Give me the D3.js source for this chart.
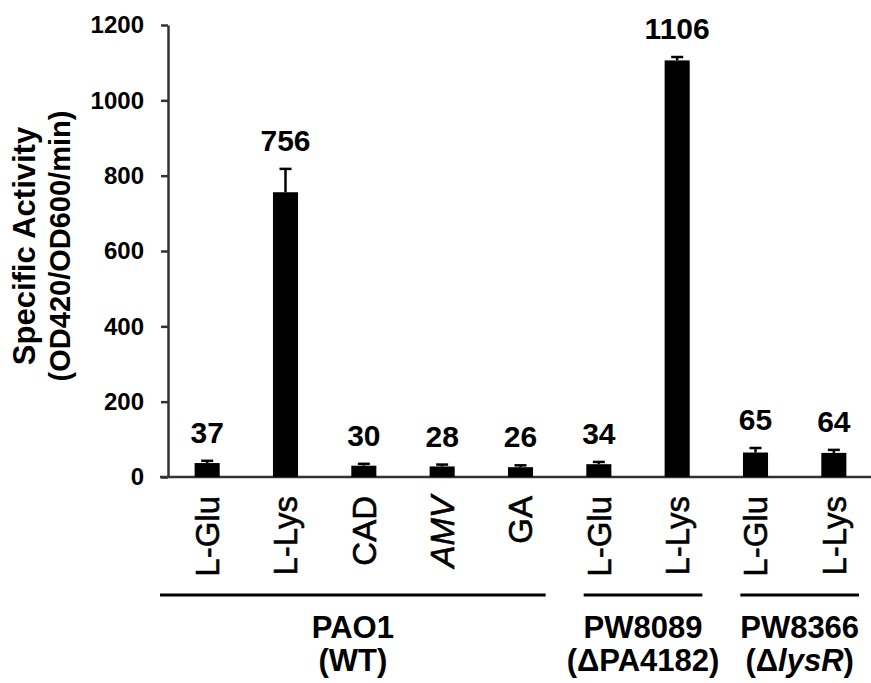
<!DOCTYPE html>
<html>
<head>
<meta charset="utf-8">
<script src="https://cdn.jsdelivr.net/npm/d3@7"></script>
<style>
  html, body { margin: 0; padding: 0; background: #fff; }
  svg { display: block; font-family: "Liberation Sans", Arial, sans-serif; }
</style>
</head>
<body>
<svg id="chart" width="871" height="683"></svg>
<script>
// Substrates tested per strain
const categories = ["L-Glu", "L-Lys", "CAD", "AMV", "GA", "L-Glu", "L-Lys", "L-Glu", "L-Lys"];
// Mean specific activity (OD420/OD600/min)
const values = [37, 756, 30, 28, 26, 34, 1106, 65, 64];
// Upper error (standard deviation)
const errors = [6, 62, 5, 5, 5, 6, 9, 12, 8];
// Italic substrate labels
const italicLabels = ["AMV"];
// Strain groups: first and last bar index, and two label lines
const groupNames = ["PAO1", "PW8089", "PW8366"];
const groupSubtitles = ["(WT)", "(ΔPA4182)", "(ΔlysR)"];
const groupStart = [0, 5, 7];
const groupEnd = [4, 6, 8];
const yTicks = [0, 200, 400, 600, 800, 1000, 1200];

const svg = d3.select("#chart");
const axisColor = "#333";

const x = d3.scaleBand()
  .domain(d3.range(categories.length))
  .range([168, 873])
  .paddingInner(0.68)
  .paddingOuter(0.34);

const y = d3.scaleLinear().domain([0, 1200]).range([477, 25]);

// Y axis
const yAxis = svg.append("g")
  .attr("transform", "translate(168,0)")
  .call(d3.axisLeft(y).tickValues(yTicks).tickFormat(d3.format("d"))
    .tickSize(7).tickPadding(17).tickSizeOuter(0));
yAxis.select(".domain").attr("stroke", axisColor).attr("stroke-width", 2.5);
yAxis.selectAll(".tick line").attr("stroke", axisColor).attr("stroke-width", 2.5);
yAxis.selectAll(".tick text")
  .attr("fill", "#000")
  .attr("font-size", 24)
  .attr("font-weight", "bold")
  .attr("font-family", "'Liberation Sans', Arial, sans-serif");

// X baseline
svg.append("line")
  .attr("x1", 160).attr("x2", 871)
  .attr("y1", y(0)).attr("y2", y(0))
  .attr("stroke", axisColor).attr("stroke-width", 2.5);

// Y axis title
const yTitle = svg.append("text")
  .attr("transform", `translate(0,246) rotate(-90)`)
  .attr("text-anchor", "middle")
  .attr("font-weight", "bold")
  .attr("fill", "#000");
yTitle.append("tspan").attr("x", 0).attr("y", 35).attr("font-size", 31).text("Specific Activity");
yTitle.append("tspan").attr("x", 0).attr("y", 70).attr("font-size", 29).text("(OD420/OD600/min)");

// Bars
const idx = d3.range(categories.length);
svg.append("g").selectAll("rect")
  .data(idx)
  .join("rect")
  .attr("x", i => x(i))
  .attr("width", x.bandwidth())
  .attr("y", i => y(values[i]))
  .attr("height", i => y(0) - y(values[i]))
  .attr("fill", "#000");

// Upper error bars
const eb = svg.append("g").attr("stroke", "#000").attr("stroke-width", 2.5);
idx.forEach(i => {
  const cx = x(i) + x.bandwidth() / 2;
  eb.append("line").attr("x1", cx).attr("x2", cx)
    .attr("y1", y(values[i])).attr("y2", y(values[i] + errors[i]));
  eb.append("line").attr("x1", cx - 6).attr("x2", cx + 6)
    .attr("y1", y(values[i] + errors[i])).attr("y2", y(values[i] + errors[i]));
});

// Value labels
svg.append("g").selectAll("text")
  .data(idx)
  .join("text")
  .attr("x", i => x(i) + x.bandwidth() / 2)
  .attr("y", i => y(values[i] + errors[i]) - 18)
  .attr("text-anchor", "middle")
  .attr("font-size", 30)
  .attr("font-weight", "bold")
  .attr("fill", "#000")
  .text(i => values[i]);

// Category labels (rotated)
svg.append("g").selectAll("text")
  .data(idx)
  .join("text")
  .attr("transform", i => `translate(${x(i) + x.bandwidth() / 2},496) rotate(-90)`)
  .attr("dy", "0.36em")
  .attr("text-anchor", "end")
  .attr("font-size", 33)
  .attr("font-style", i => italicLabels.includes(categories[i]) ? "italic" : "normal")
  .attr("fill", "#000")
  .attr("stroke", "#000")
  .attr("stroke-width", 0.6)
  .text(i => categories[i]);

// Group brackets and strain labels
groupNames.forEach((name, g) => {
  const left = g === 0 ? 160 : x(groupStart[g]) - x.step() * x.paddingInner() / 2 + 24;
  const right = x(groupEnd[g]) + x.bandwidth() + x.step() * x.paddingInner() / 2 - 14;
  const cx = (left + right) / 2;
  svg.append("line")
    .attr("x1", left).attr("x2", right)
    .attr("y1", 595).attr("y2", 595)
    .attr("stroke", "#000").attr("stroke-width", 3);
  svg.append("text")
    .attr("x", cx).attr("y", 638)
    .attr("text-anchor", "middle")
    .attr("font-size", 31).attr("font-weight", "bold")
    .attr("fill", "#000")
    .text(name);
  const sub = svg.append("text")
    .attr("x", cx).attr("y", 671)
    .attr("text-anchor", "middle")
    .attr("font-size", 31).attr("font-weight", "bold")
    .attr("fill", "#000");
  const s = groupSubtitles[g];
  if (s === "(ΔlysR)") {
    sub.append("tspan").text("(Δ");
    sub.append("tspan").attr("font-style", "italic").text("lysR");
    sub.append("tspan").text(")");
  } else {
    sub.text(s);
  }
});
</script>
</body>
</html>
